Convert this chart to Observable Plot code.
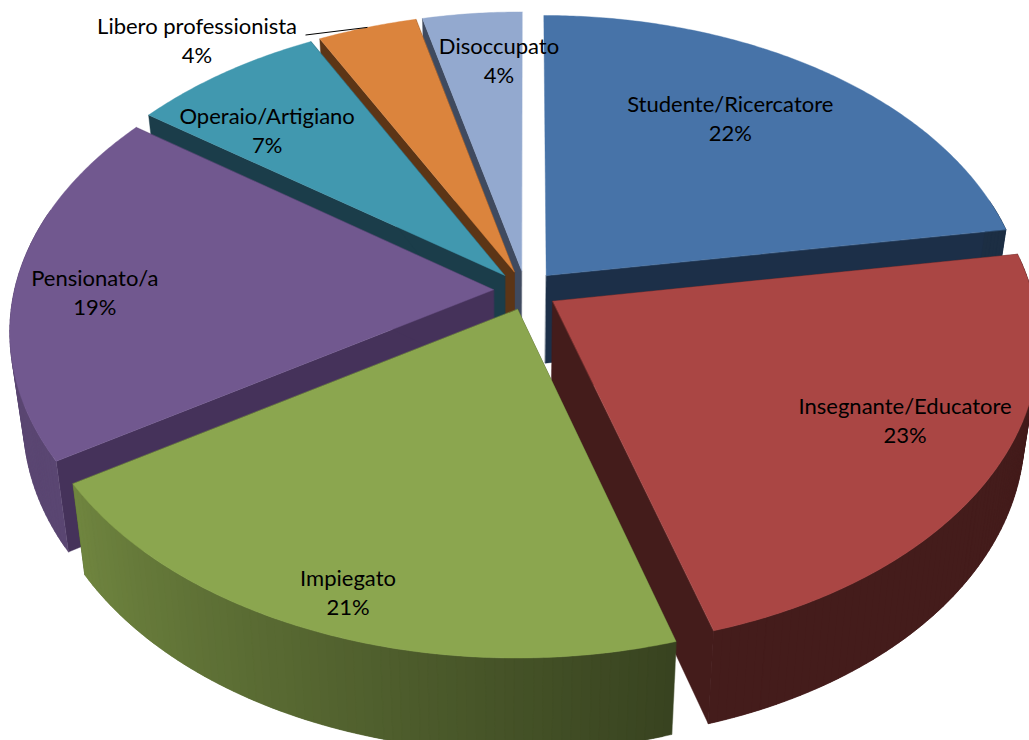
<!DOCTYPE html>
<html>
<head>
<meta charset="utf-8">
<style>html,body{margin:0;padding:0;background:#fff;overflow:hidden}svg{display:block}</style>
<script src="https://cdn.jsdelivr.net/npm/d3@7"></script>
<script src="https://cdn.jsdelivr.net/npm/@observablehq/plot@0.6"></script>
</head>
<body>
<div id="chart"></div>
<script>
// Data
const categories = ["Studente/Ricercatore","Insegnante/Educatore","Impiegato","Pensionato/a","Operaio/Artigiano","Libero professionista","Disoccupato"];
const shares = [22.45,22.95,20.6,19.0,7.4,3.8,3.8];
// Style
const topColors = ["#4773a8","#aa4644","#8ba64f","#71588f","#4198af","#db843d","#93a9cf"];
const sideColors = ["#1c2f48","#441c1b","#384220","#45325a","#1b3d4a","#5c3516","#3f4a5f"];
const labelRadius = [0.715,0.787,0.885,0.832,0.757,1.160,0.80];
const labelTurn = [-4.5,-3.9,-0.2,-2.1,-4.5,-19.6,3.0];
const sliceWiden = [1,1,1.012,1,1,1,1];
const sliceNudge = [0,0,0.0073,0,0,0,0];
const paintOrder = [6,5,4,0,3,1,2];

// Oblique projection of the pie's disk
const cx=525, cy=290, A=479, B=297.7, k=0.131, explode=0.067, xv=510, m=0.027;
const project=(X,Y)=>{const w=1-k*Y;return [cx+A*X/w,cy+B*Y/w];};
const foot=(p,Y)=>[xv+(p[0]-xv)*(1-m),p[1]+88+5*Y];
const rad=d=>d*Math.PI/180;

const total=d3.sum(shares);
let acc=0;
const slices=shares.map((v,i)=>{const a0=acc/total*360;acc+=v;const a1=acc/total*360;
  const mid=(a0+a1)/2;
  return {i,a0,a1,mid,ox:explode*Math.sin(rad(mid))+sliceNudge[i],oy:-explode*Math.cos(rad(mid))};});
const disk=(s,a,r=1)=>[s.ox+sliceWiden[s.i]*r*Math.sin(rad(a)),s.oy-r*Math.cos(rad(a))];
const shade=a=>a<=163?0.4:a>=237?0.8:0.4+0.4*(a-163)/74;
const darker=(c,f)=>{const q=d3.rgb(c);return d3.rgb(q.r*f,q.g*f,q.b*f).formatHex();};

const rows=[];let nid=0;
const poly=(pts,color)=>{const id=nid++;pts.forEach(p=>rows.push({id,x:p[0],y:p[1],color}));};
for(const i of paintOrder){
  const s=slices[i], apex=[s.ox,s.oy], pa=project(...apex), fa=foot(pa,apex[1]);
  const n=Math.ceil(s.a1-s.a0);
  const at=j=>s.a0+(s.a1-s.a0)*j/n;
  // radial walls
  for(const a of [s.a0,s.a1]){
    if(a<1||a>359) continue;
    const d=disk(s,a),p=project(...d);
    poly([pa,p,foot(p,d[1]),fa],sideColors[i]);
  }
  // outer wall: only the part facing the viewer; each strip runs on under the next one
  const first=Math.max(s.a0,75), last=Math.min(s.a1,285);
  for(let j=0;j<n;j++){
    const b0=at(j), b1=at(j+1);
    if(b1<first||b0>last) continue;
    const b2=at(Math.min(j+2,n));
    const d0=disk(s,b0),d1=disk(s,b1),d2=disk(s,b2);
    const p0=project(...d0),p1=project(...d1),p2=project(...d2);
    poly([p0,p1,p2,foot(p2,d2[1]),foot(p1,d1[1]),foot(p0,d0[1])],darker(topColors[i],shade((b0+b1)/2)));
  }
  // top face
  const top=[pa];
  for(let j=0;j<=n*2;j++)top.push(project(...disk(s,s.a0+(s.a1-s.a0)*j/(n*2))));
  poly(top,topColors[i]);
}

const labels=slices.map(s=>{const [x,y]=project(...disk(s,s.mid+labelTurn[s.i],labelRadius[s.i]));
  return {x,y,text:categories[s.i]+"\n"+Math.round(shares[s.i])+"%"};});

const lib=slices[5];
const leader=[disk(lib,331.4,1.03),disk(lib,lib.mid,1.0)].map(d=>{const [x,y]=project(...d);return {x,y};});

const chart=Plot.plot({
  width:1029,height:740,margin:0,
  x:{axis:null,domain:[0,1029],range:[0,1029]},
  y:{axis:null,domain:[0,740],range:[0,740]},
  color:{type:"identity"},
  marks:[
    Plot.line(rows,{x:"x",y:"y",z:"id",fill:"color",stroke:"color",strokeWidth:0.4,curve:"linear-closed"}),
    Plot.line(leader,{x:"x",y:"y",stroke:"#000",strokeWidth:1}),
    Plot.text(labels,{x:"x",y:"y",text:"text",fontSize:22,lineHeight:1.32,fill:"#000",fontFamily:"Lato",textAnchor:"middle"})
  ]
});
document.getElementById("chart").appendChild(chart);
</script>
</body>
</html>
